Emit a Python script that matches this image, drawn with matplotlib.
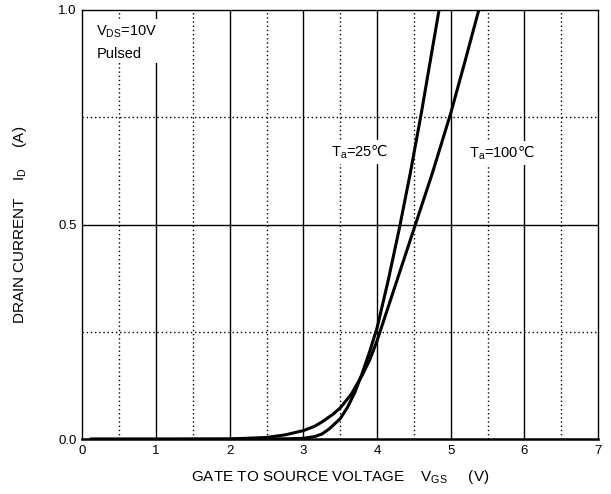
import matplotlib
matplotlib.use("Agg")
import matplotlib.pyplot as plt
import numpy as np

plt.rcParams['font.family'] = ['Liberation Sans', 'DejaVu Sans']
plt.rcParams['mathtext.fontset'] = 'custom'
plt.rcParams['mathtext.rm'] = 'Liberation Sans'
plt.rcParams['mathtext.sf'] = 'DejaVu Sans'

# Ta = 25 C  (VGS in V, ID in A)
vgs_25 = np.array([0.1, 1.0, 2.0, 2.5, 2.8, 3.0, 3.15, 3.25, 3.35, 3.5, 3.6,
                   3.7, 3.8, 3.9, 4.0, 4.15, 4.3, 4.45, 4.6, 4.72, 4.84])
id_25 = np.array([0.0, 0.0, 0.0, 0.0003, 0.001, 0.002, 0.006, 0.012, 0.024,
                  0.048, 0.075, 0.11, 0.155, 0.205, 0.26, 0.37, 0.49, 0.62,
                  0.76, 0.88, 1.0])

# Ta = 100 C
vgs_100 = np.array([0.1, 1.0, 2.0, 2.5, 2.75, 3.0, 3.15, 3.25, 3.4, 3.5, 3.65,
                    3.8, 3.9, 4.0, 4.25, 4.5, 4.75, 5.0, 5.2, 5.38])
id_100 = np.array([0.0, 0.0, 0.0005, 0.004, 0.01, 0.02, 0.03, 0.04, 0.058,
                   0.073, 0.105, 0.15, 0.185, 0.23, 0.36, 0.49, 0.62, 0.76,
                   0.885, 1.0])

x_major = [1, 2, 3, 4, 5, 6]
x_minor = [0.5, 1.5, 2.5, 3.5, 4.5, 5.5, 6.5]
y_major = [0.5]
y_minor = [0.25, 0.75]

fig = plt.figure(figsize=(6.11, 4.94), dpi=100)
ax = fig.add_axes([0.135, 0.111, 0.844, 0.869])

dots = (0, (1.0, 2.0))
for x in x_major:
    ax.axvline(x, color='black', lw=1.0, zorder=1)
for x in x_minor:
    ax.axvline(x, color='black', lw=1.0, ls=dots, zorder=1)
for y in y_major:
    ax.axhline(y, color='black', lw=1.0, zorder=1)
for y in y_minor:
    ax.axhline(y, color='black', lw=1.0, ls=dots, zorder=1)

ax.plot(vgs_25, id_25, color='black', lw=2.2, zorder=3, solid_capstyle='butt')
ax.plot(vgs_100, id_100, color='black', lw=2.2, zorder=3, solid_capstyle='butt')

ax.set_xlim(0, 7)
ax.set_ylim(0, 1.0)
ax.set_xticks(range(0, 8))
ax.set_yticks([0.0, 0.5, 1.0])
ax.set_yticklabels(['0.0', '0.5', '1.0'])
ax.tick_params(length=0, labelsize=9.5, pad=4)

for s in ax.spines.values():
    s.set_linewidth(1.0)
ax.spines['bottom'].set_linewidth(1.8)

ax.set_xlabel(r'GATE TO SOURCE VOLTAGE    $\mathregular{V_{GS}}$     (V)',
              fontsize=11, labelpad=8)
ax.set_ylabel(r'DRAIN CURRENT    $\mathregular{I_{D}}$     (A)',
              fontsize=11, labelpad=21)

box = dict(facecolor='white', edgecolor='none', pad=2)
ax.text(0.19, 0.968, r'$\mathregular{V_{DS}}$=10V' + '\nPulsed', fontsize=10.5,
        ha='left', va='top', bbox=box, zorder=2, linespacing=1.6)
ax.text(3.38, 0.67, r'$\mathregular{T_{a}}$=25$\mathsf{℃}$', fontsize=10.5,
        ha='left', va='center', bbox=box, zorder=2)
ax.text(5.25, 0.667, r'$\mathregular{T_{a}}$=100$\mathsf{℃}$', fontsize=10.5,
        ha='left', va='center', bbox=box, zorder=2)

fig.savefig('out.png', dpi=100)
